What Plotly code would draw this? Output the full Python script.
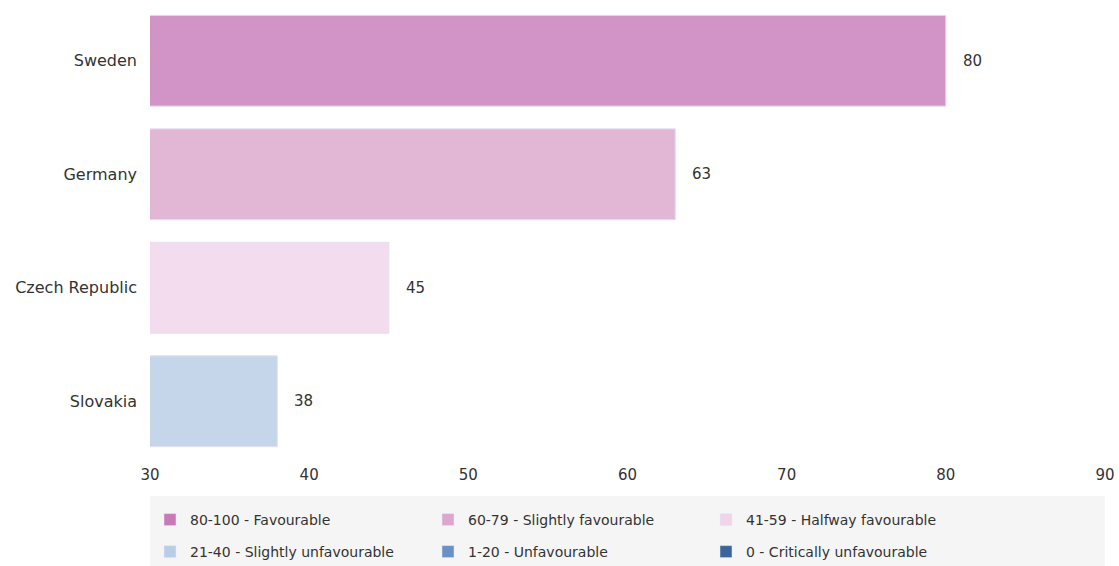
import plotly.graph_objects as go

countries = ["Sweden", "Germany", "Czech Republic", "Slovakia"]
values = [80, 63, 45, 38]
bar_colors = ["#c879b8", "#dca6cd", "#f0d4ea", "#b8cde6"]

legend_names = ["80-100 - Favourable", "60-79 - Slightly favourable", "41-59 - Halfway favourable",
                "21-40 - Slightly unfavourable", "1-20 - Unfavourable", "0 - Critically unfavourable"]
legend_colors = ["#c879b8", "#dca6cd", "#f0d4ea", "#b8cde6", "#6a90c6", "#3d6499"]

x_ticks = [30, 40, 50, 60, 70, 80, 90]

FONT = "DejaVu Sans"
TXT = "#333333"

H = 566
top, bottom = 4, 108
plot_h = H - top - bottom


def py(px):
    # convert pixel y (from top of image) to paper coord
    return (H - bottom - px) / plot_h


def cy(px):
    # convert pixel y to container coord
    return (H - px) / H


fig = go.Figure()
fig.add_trace(go.Bar(
    x=values, y=countries, orientation="h", base=0,
    marker=dict(color=bar_colors, opacity=0.8, line=dict(color="#dcd8f0", width=1)),
    showlegend=False, hoverinfo="x+y",
))
for i, (name, col) in enumerate(zip(legend_names, legend_colors)):
    fig.add_trace(go.Bar(x=[None], y=[None], orientation="h", name=name,
                         marker=dict(color=col), showlegend=True,
                         legend="legend" if i < 3 else "legend2"))

for c, v in zip(countries, values):
    fig.add_annotation(x=v, y=c, text=str(v), showarrow=False, xanchor="left",
                       xshift=15, font=dict(family=FONT, size=15, color=TXT))

fig.add_shape(type="rect", xref="paper", yref="paper", x0=0, x1=1,
              y0=py(566), y1=py(496), fillcolor="#f5f5f5", line=dict(width=0), layer="below")

leg_common = dict(orientation="h", x=0.0, xanchor="left", yanchor="middle", yref="container",
                  bgcolor="rgba(0,0,0,0)", entrywidth=233, entrywidthmode="pixels",
                  font=dict(family=FONT, size=14, color=TXT), traceorder="normal",
                  tracegroupgap=0)

fig.update_layout(
    width=1119, height=566,
    margin=dict(l=150, r=14, t=top, b=bottom),
    paper_bgcolor="white", plot_bgcolor="white",
    bargap=0.2,
    font=dict(family=FONT, size=15, color=TXT),
    xaxis=dict(range=[30, 90], tickvals=x_ticks, showgrid=False, zeroline=False,
               showline=False, ticks="", ticklabelstandoff=6,
               tickfont=dict(family=FONT, size=15, color=TXT), fixedrange=True),
    yaxis=dict(categoryorder="array", categoryarray=countries[::-1], showgrid=False,
               zeroline=False, showline=False, ticks="", ticklabelstandoff=12,
               tickfont=dict(family=FONT, size=16, color=TXT)),
    legend=dict(y=cy(520), **leg_common),
    legend2=dict(y=cy(552), **leg_common),
)

fig.write_html("out.html", config={"displayModeBar": False},
               post_script="document.body.style.margin='0px';")
